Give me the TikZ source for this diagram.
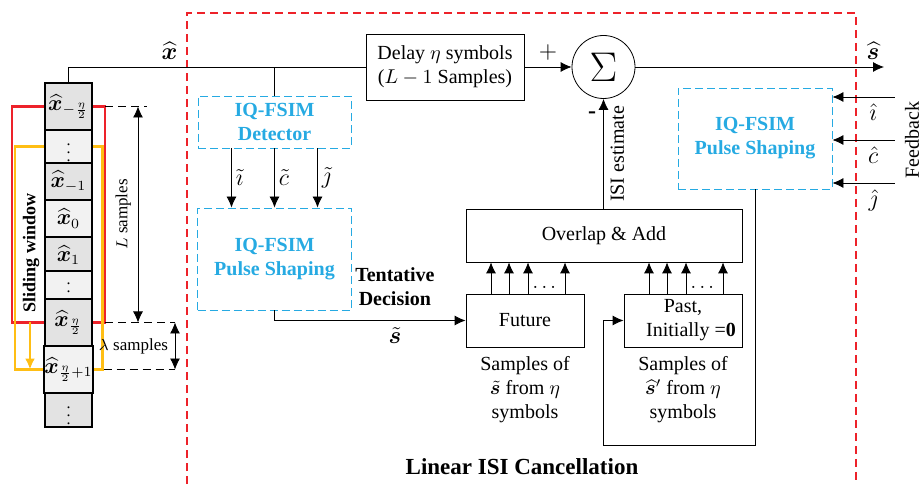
\documentclass[tikz,border=0pt]{standalone}
\usepackage{amsmath}
\usepackage{bm}
\usepackage{fontspec}
\setmainfont{Liberation Serif}
\usetikzlibrary{positioning,arrows.meta,backgrounds}

\definecolor{winred}{RGB}{237,34,42}
\definecolor{winyel}{RGB}{255,190,20}
\definecolor{iqblue}{RGB}{38,170,226}
\definecolor{cellA}{gray}{0.89}
\definecolor{cellB}{gray}{0.95}

\tikzset{
  blk/.style={draw,align=center,inner sep=1pt},
  iqbox/.style={draw=iqblue,dash pattern=on 4pt off 2pt,text=iqblue,font=\bfseries,align=center,inner sep=1pt},
  cell/.style={draw,minimum width=23.5pt,inner sep=0pt,font=\fontsize{10.5}{12}\selectfont},
  dimline/.style={dash pattern=on 4pt off 2.5pt},
  mlab/.style={font=\fontsize{13}{14}\selectfont},
}

\begin{document}
\begin{tikzpicture}[x=0.5pt,y=-0.5pt,>={Latex[length=5.5pt,width=5pt]},line width=1pt]
\useasboundingbox (0,0) rectangle (921,486);

% linear ISI cancellation frame
\draw[winred,line width=0.75pt,dash pattern=on 4pt off 2.5pt] (187,484) -- (187,13) -- (856,13) -- (856,484);

% received samples
\foreach \y/\h/\f/\lab [count=\i] in {
  106.5/23.5/cellA/{$\bm{\widehat{x}}_{-\frac{\eta}{2}}$},
  146.5/16.5/cellB/{\footnotesize$\vdots$},
  181.5/18.5/cellA/{$\bm{\widehat{x}}_{-1}$},
  218.5/18.5/cellB/{$\bm{\widehat{x}}_{0}$},
  255/18/cellA/{$\bm{\widehat{x}}_{1}$},
  286/13/cellB/{\footnotesize$\vdots$},
  322.5/23.5/cellA/{$\bm{\widehat{x}}_{\frac{\eta}{2}}$},
  369.5/23.5/cellB/{$\bm{\widehat{x}}_{\frac{\eta}{2}+1}$},
  410/17/cellA/{\footnotesize$\vdots$}}
  \node[cell,fill=\f,minimum height=\h pt] (c\i) at (68.5,\y) {\lab};

% sliding windows
\coordinate (wl) at (12,0);
\coordinate (yl) at (15,0);
\coordinate (ya) at (30,0);
\begin{pgfonlayer}{background}
  \draw[winred,line width=1.2pt] (wl |- c1.center) rectangle ([xshift=6pt]c7.east);
  \draw[winyel,line width=1.2pt] (yl |- c2.center) rectangle ([xshift=4.5pt]c8.east);
  \draw[winyel,line width=1.2pt,->] (ya |- c7.center) -- (ya |- c8.center);
  \node[rotate=90,font=\bfseries\fontsize{9}{11}\selectfont] (slw) at (31,253) {Sliding window};
\end{pgfonlayer}

% window lengths
\coordinate (lx) at (138,0);
\coordinate (mx) at (175,0);
\draw[dimline] ([xshift=6pt]c1.east) -- ([xshift=4.5pt]lx |- c1.east);
\draw[dimline] ([xshift=6pt]c7.east) -- (mx |- c7.east);
\draw[dimline] ([xshift=5pt]c8.east) -- (mx |- c8.east);
\draw[<->] (lx |- c1.east) -- node[midway,rotate=90,anchor=south,font=\fontsize{8.5}{10}\selectfont]{$L$ samples} (lx |- c7.east);
\draw[<->] (mx |- c7.east) -- node[midway,left,font=\fontsize{8.5}{10}\selectfont]{$\lambda$ samples} (mx |- c8.east);

% main path
\node[blk,minimum width=79pt,minimum height=33pt] (dly) at (445,67) {Delay $\eta$ symbols\\($L-1$ Samples)};
\node[draw,circle,minimum size=31.5pt,inner sep=0pt,font=\fontsize{22}{22}\selectfont] (sig) at (603.5,67) {$\Sigma$};
\draw (c1.north) |- node[pos=0.67,above,mlab]{$\bm{\widehat{x}}$} (dly.west);
\draw[->] (dly) -- node[above,mlab]{$+$} (sig);
\coordinate (sout) at (884,67);
\draw[->] (sig) -- node[pos=0.956,above,mlab]{$\widehat{\bm{s}}$} (sout);

% tentative decision branch
\node[iqbox,minimum width=76.5pt,minimum height=26pt] (det) at (274.5,122) {IQ-FSIM\\Detector};
\draw (det.north) -- (det.north |- dly.west);
\node[iqbox,minimum width=77pt,minimum height=51pt] (ps) at (274.5,259) {IQ-FSIM\\Pulse Shaping};
\foreach \dx/\lab in {-21.5pt/\tilde{\imath},0pt/\tilde{c},21.5pt/\tilde{\jmath}}
  \draw[->] ([xshift=\dx]det.south) -- node[right,inner sep=2pt,mlab]{$\lab$} ([xshift=\dx]ps.north);

\node[blk,minimum width=59pt,minimum height=26.5pt] (fut) at (525,320.5) {Future};
\node[blk,minimum width=59pt,minimum height=26.5pt] (past) at (683,320.5) {Past,\\\hspace*{8pt}Initially =\textbf{0}};
\node[blk,minimum width=138pt,minimum height=26.5pt] (ola) at (604,235.5) {Overlap \& Add};
\draw[->] (ps.south) |- node[pos=0.815,above=4pt,font=\bfseries,align=center]{Tentative\\Decision}
  node[pos=0.815,below,mlab]{$\tilde{\bm{s}}$} (fut.west);

% overlap and add inputs
\foreach \b in {fut,past} {
  \foreach \dx in {-17pt,-8pt,1.5pt,20pt}
    \draw[->] ([xshift=\dx]\b.north) -- ([xshift=\dx]\b.north |- ola.south);
  \node[anchor=south,inner sep=1pt] (dots\b) at ([xshift=10.5pt,yshift=1.5pt]\b.north) {$\dots$};
}
\node[below=1pt of fut,align=center] (futs) {Samples of\\$\tilde{\bm{s}}$ from $\eta$\\symbols};
\node[below=1pt of past,align=center] (pasts) {Samples of\\$\widehat{\bm{s}}'$ from $\eta$\\symbols};

% ISI estimate
\draw[->] (sig.south |- ola.north) -- node[midway,rotate=90,anchor=north]{ISI estimate} (sig.south);
\node[font=\large\bfseries] (minus) at (592,115) {-};

% feedback
\node[iqbox,minimum width=77pt,minimum height=50.5pt] (psr) at (755,138.5) {IQ-FSIM\\Pulse Shaping};
\coordinate (fbx) at (895,0);
\foreach \dy/\lab in {20.75pt/\hat{\imath},-0.75pt/\hat{c},-22.25pt/\hat{\jmath}}
  \draw[<-] ([yshift=\dy]psr.east) -- node[pos=0.65,below,mlab]{$\lab$} ([yshift=\dy]psr.east -| fbx);
\node[rotate=90] (fbk) at (912,140) {Feedback};
\coordinate (loop) at (603,445);
\draw[->] (psr.south) |- (loop) |- (past.west);

\node[font=\bfseries\fontsize{11.5}{14}\selectfont] (title) at (522,467) {Linear ISI Cancellation};
\end{tikzpicture}
\end{document}
